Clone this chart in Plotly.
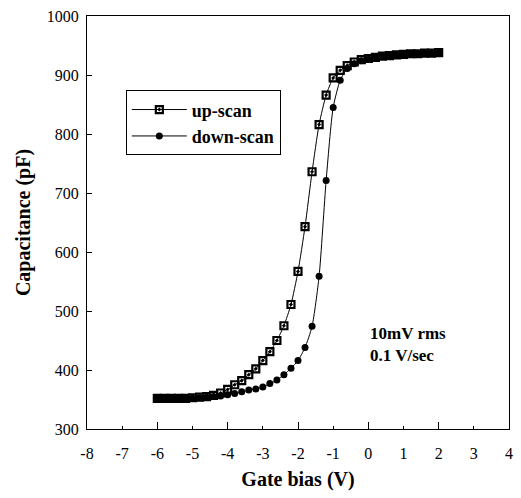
import plotly.graph_objects as go

# Gate bias (V)
bias = [-6.0, -5.8, -5.6, -5.4, -5.2, -5.0, -4.8, -4.6, -4.4, -4.2,
        -4.0, -3.8, -3.6, -3.4, -3.2, -3.0, -2.8, -2.6, -2.4, -2.2,
        -2.0, -1.8, -1.6, -1.4, -1.2, -1.0, -0.8, -0.6, -0.4, -0.2,
        0.0, 0.2, 0.4, 0.6, 0.8, 1.0, 1.2, 1.4, 1.6, 1.8, 2.0]

# Capacitance (pF)
up_scan = [352, 352, 352, 352, 352, 353, 354, 355, 357, 361,
           367, 375, 382, 392, 402, 416, 431, 450, 475, 511,
           567, 643, 736, 816, 866, 895, 908, 916, 922, 926,
           928, 930, 932, 933, 934, 935, 936, 936, 937, 937, 938]

down_scan = [352, 352, 352, 352, 352, 352, 353, 354, 355, 356,
             358, 360, 363, 366, 368, 371, 377, 383, 392, 403,
             416, 438, 474, 559, 721, 845, 891, 911, 919, 924,
             927, 930, 932, 933, 934, 935, 936, 936, 937, 937, 938]

x_ticks = [-8, -7, -6, -5, -4, -3, -2, -1, 0, 1, 2, 3, 4]
x_major = [-8, -6, -4, -2, 0, 2, 4]
y_ticks = [300, 400, 500, 600, 700, 800, 900, 1000]

serif = "Liberation Serif, Times New Roman, serif"

fig = go.Figure()
fig.add_trace(go.Scatter(
    x=bias, y=up_scan, name="up-scan", mode="lines+markers",
    line=dict(color="black", width=1, shape="spline", smoothing=0.6),
    marker=dict(symbol="square-open-dot", size=7, color="black",
                line=dict(color="black", width=2.2)),
))
fig.add_trace(go.Scatter(
    x=bias, y=down_scan, name="down-scan", mode="lines+markers",
    line=dict(color="black", width=1, shape="spline", smoothing=0.6),
    marker=dict(symbol="circle", size=7, color="black"),
))
# invisible trace on the overlay axis to hold major x ticks
fig.add_trace(go.Scatter(x=[x_ticks[0], x_ticks[-1]], y=[y_ticks[0], y_ticks[0]],
                         xaxis="x2", mode="markers", marker=dict(opacity=0),
                         showlegend=False, hoverinfo="skip"))

fig.update_layout(
    width=521, height=498,
    margin=dict(l=87, r=8, t=10, b=69),
    paper_bgcolor="white", plot_bgcolor="white",
    font=dict(family=serif, color="black", size=16),
    showlegend=True,
    legend=dict(x=0.092, y=0.82, xanchor="left", yanchor="top",
                bordercolor="black", borderwidth=1, bgcolor="white",
                font=dict(family=serif, size=18, color="black", weight="bold"),
                itemwidth=55, tracegroupgap=0),
    xaxis=dict(range=[-8, 4], tickvals=x_ticks, ticktext=[str(v) for v in x_ticks],
               ticks="inside", ticklen=3, tickcolor="black",
               ticklabelstandoff=10,
               showline=True, linecolor="black", linewidth=1, mirror=True,
               showgrid=False, zeroline=False,
               tickfont=dict(family=serif, size=16),
               title=dict(text="Gate bias (V)", standoff=10,
                          font=dict(family=serif, size=20, weight="bold"))),
    xaxis2=dict(range=[-8, 4], overlaying="x", anchor="y", side="bottom",
                tickvals=x_major, showticklabels=False,
                ticks="inside", ticklen=7, tickcolor="black",
                showgrid=False, zeroline=False, showline=False),
    yaxis=dict(range=[300, 1000], tickvals=y_ticks,
               ticks="inside", ticklen=5, tickcolor="black",
               ticklabelstandoff=4,
               showline=True, linecolor="black", linewidth=1, mirror=True,
               showgrid=False, zeroline=False,
               tickfont=dict(family=serif, size=16),
               title=dict(text="Capacitance (pF)", standoff=10,
                          font=dict(family=serif, size=20, weight="bold"))),
    annotations=[dict(x=0, y=444, xref="x", yref="y", xanchor="left", yanchor="middle",
                      text="10mV rms<br>0.1 V/sec", showarrow=False, align="left",
                      font=dict(family=serif, size=17, color="black", weight="bold"))],
)

fig.write_html("out.html")
